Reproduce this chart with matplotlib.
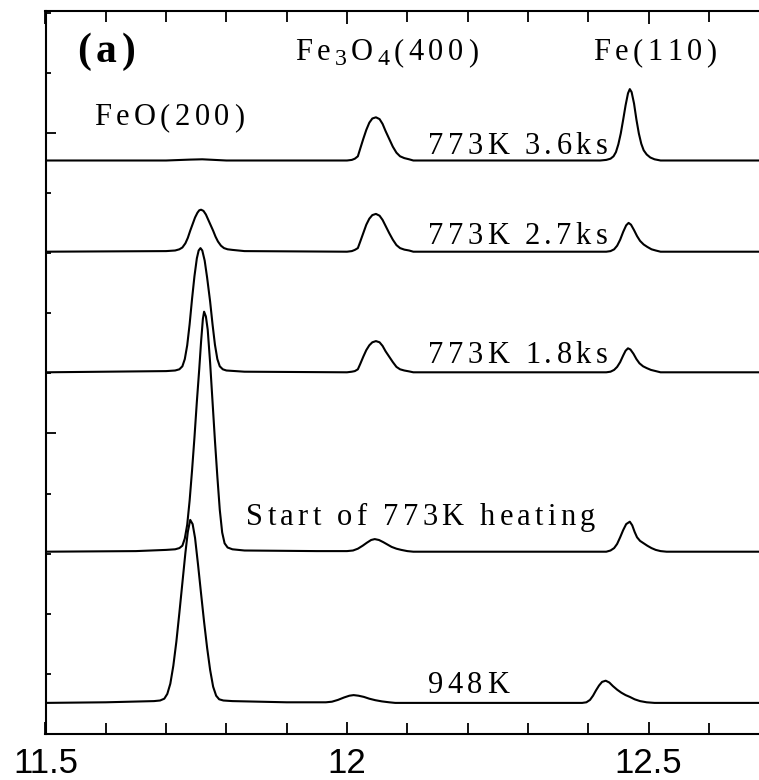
import matplotlib
matplotlib.use('Agg')
import matplotlib.pyplot as plt
from matplotlib.ticker import MultipleLocator, FixedLocator
from matplotlib.font_manager import FontProperties, findfont, get_font

# ---------------- data ----------------
# x positions and intensity above each curve's baseline (tick spacing = 1 unit)
x_948K = [11.50, 11.60, 11.68, 11.690, 11.697, 11.702, 11.707, 11.712, 11.717, 11.722,
          11.727, 11.732, 11.736, 11.740, 11.744, 11.748, 11.753, 11.758, 11.763, 11.768,
          11.773, 11.778, 11.783, 11.788, 11.795, 11.81, 11.90, 11.965, 11.975, 11.985,
          11.995, 12.004, 12.011, 12.019, 12.028, 12.037, 12.047, 12.058, 12.07, 12.08,
          12.39, 12.397, 12.403, 12.408, 12.413, 12.418, 12.423, 12.429, 12.435, 12.441,
          12.448, 12.455, 12.462, 12.469, 12.477, 12.486, 12.497, 12.51, 12.70]
y_948K = [0.00, 0.01, 0.03, 0.04, 0.07, 0.15, 0.32, 0.62, 1.02, 1.50,
          2.00, 2.50, 2.85, 3.05, 2.98, 2.75, 2.30, 1.82, 1.35, 0.92,
          0.55, 0.27, 0.12, 0.06, 0.04, 0.03, 0.01, 0.01, 0.02, 0.05,
          0.09, 0.12, 0.13, 0.12, 0.10, 0.07, 0.045, 0.025, 0.01, 0.00,
          0.00, 0.01, 0.05, 0.12, 0.21, 0.29, 0.35, 0.37, 0.34, 0.28,
          0.22, 0.17, 0.13, 0.10, 0.06, 0.03, 0.01, 0.00, 0.00]

x_start = [11.50, 11.65, 11.70, 11.715, 11.722, 11.727, 11.731, 11.735, 11.739, 11.743,
           11.747, 11.751, 11.755, 11.758, 11.761, 11.763, 11.766, 11.769, 11.773, 11.777,
           11.781, 11.785, 11.789, 11.793, 11.797, 11.802, 11.81, 11.83, 11.95, 12.00,
           12.01, 12.018, 12.026, 12.033, 12.040, 12.046, 12.053, 12.060, 12.067, 12.074,
           12.082, 12.090, 12.10, 12.11, 12.43, 12.437, 12.443, 12.448, 12.453, 12.458,
           12.463, 12.469, 12.473, 12.477, 12.481, 12.486, 12.492, 12.498, 12.505, 12.512,
           12.52, 12.53, 12.70]
y_start = [0.00, 0.01, 0.03, 0.04, 0.06, 0.10, 0.22, 0.45, 0.85, 1.35,
           1.90, 2.50, 3.05, 3.50, 3.88, 4.00, 3.92, 3.70, 3.15, 2.50,
           1.85, 1.25, 0.70, 0.32, 0.14, 0.07, 0.04, 0.02, 0.01, 0.01,
           0.02, 0.05, 0.10, 0.15, 0.195, 0.21, 0.195, 0.16, 0.12, 0.08,
           0.05, 0.03, 0.01, 0.00, 0.00, 0.02, 0.06, 0.13, 0.24, 0.36,
           0.46, 0.50, 0.44, 0.33, 0.24, 0.18, 0.14, 0.10, 0.06, 0.03,
           0.01, 0.00, 0.00]

x_18ks = [11.50, 11.70, 11.715, 11.722, 11.727, 11.731, 11.735, 11.739, 11.743, 11.747,
          11.751, 11.754, 11.757, 11.760, 11.764, 11.768, 11.773, 11.777, 11.781, 11.785,
          11.789, 11.794, 11.80, 11.83, 12.00, 12.008, 12.013, 12.018, 12.022, 12.027,
          12.032, 12.037, 12.042, 12.048, 12.054, 12.059, 12.064, 12.070, 12.076, 12.082,
          12.088, 12.095, 12.103, 12.11, 12.43, 12.437, 12.443, 12.448, 12.453, 12.458,
          12.462, 12.466, 12.470, 12.475, 12.480, 12.485, 12.491, 12.497, 12.504, 12.512,
          12.52, 12.70]
y_18ks = [0.00, 0.02, 0.03, 0.05, 0.10, 0.22, 0.45, 0.80, 1.22, 1.60,
          1.90, 2.03, 2.07, 2.03, 1.86, 1.58, 1.18, 0.80, 0.46, 0.22,
          0.10, 0.05, 0.03, 0.01, 0.00, 0.01, 0.02, 0.05, 0.14, 0.26,
          0.37, 0.45, 0.50, 0.52, 0.50, 0.44, 0.35, 0.26, 0.17, 0.09,
          0.05, 0.03, 0.015, 0.00, 0.00, 0.01, 0.04, 0.09, 0.17, 0.28,
          0.36, 0.40, 0.38, 0.31, 0.22, 0.15, 0.10, 0.07, 0.04, 0.02,
          0.00, 0.00]

x_27ks = [11.50, 11.70, 11.715, 11.722, 11.727, 11.732, 11.736, 11.740, 11.744, 11.748,
          11.752, 11.755, 11.758, 11.762, 11.766, 11.770, 11.774, 11.778, 11.782, 11.786,
          11.791, 11.796, 11.802, 11.81, 11.83, 12.00, 12.008, 12.013, 12.018, 12.022,
          12.027, 12.032, 12.037, 12.042, 12.048, 12.054, 12.059, 12.064, 12.070, 12.076,
          12.082, 12.088, 12.095, 12.103, 12.11, 12.43, 12.437, 12.443, 12.448, 12.453,
          12.458, 12.463, 12.467, 12.471, 12.476, 12.481, 12.486, 12.492, 12.498, 12.505,
          12.512, 12.52, 12.70]
y_27ks = [0.00, 0.01, 0.02, 0.04, 0.07, 0.14, 0.23, 0.35, 0.46, 0.57,
          0.65, 0.69, 0.70, 0.68, 0.62, 0.53, 0.44, 0.35, 0.25, 0.17,
          0.10, 0.06, 0.04, 0.03, 0.01, 0.00, 0.01, 0.03, 0.06, 0.17,
          0.31, 0.45, 0.55, 0.61, 0.63, 0.60, 0.53, 0.43, 0.31, 0.20,
          0.11, 0.06, 0.035, 0.02, 0.00, 0.00, 0.01, 0.04, 0.10, 0.20,
          0.33, 0.44, 0.48, 0.45, 0.36, 0.26, 0.18, 0.12, 0.08, 0.04,
          0.02, 0.00, 0.00]

x_36ks = [11.50, 11.70, 11.74, 11.76, 11.78, 11.80, 12.00, 12.008, 12.013, 12.018,
          12.022, 12.027, 12.032, 12.037, 12.042, 12.048, 12.054, 12.059, 12.064, 12.070,
          12.076, 12.082, 12.088, 12.095, 12.103, 12.11, 12.42, 12.430, 12.437, 12.442,
          12.446, 12.450, 12.454, 12.458, 12.462, 12.466, 12.469, 12.472, 12.476, 12.480,
          12.484, 12.488, 12.492, 12.497, 12.503, 12.51, 12.52, 12.70]
y_36ks = [0.00, 0.00, 0.015, 0.02, 0.01, 0.00, 0.00, 0.01, 0.03, 0.07,
          0.20, 0.36, 0.51, 0.63, 0.70, 0.72, 0.69, 0.61, 0.49, 0.36,
          0.23, 0.13, 0.07, 0.04, 0.02, 0.00, 0.00, 0.01, 0.03, 0.07,
          0.14, 0.27, 0.45, 0.68, 0.92, 1.12, 1.19, 1.14, 0.95, 0.68,
          0.45, 0.28, 0.17, 0.10, 0.05, 0.02, 0.00, 0.00]

curve_labels = ['948K', 'Start of 773K heating', '773K 1.8ks', '773K 2.7ks', '773K 3.6ks']
offsets = [0.51, 3.03, 6.02, 8.03, 9.55]
x_ticks = [11.5, 12, 12.5]
x_tick_labels = ['11.5', '12', '12.5']

# ---------------- figure ----------------
DPI = 100
fig = plt.figure(figsize=(7.59, 7.80), dpi=DPI)
ax = fig.add_axes([45.5 / 759, 46.5 / 780, 723.6 / 759, 722.5 / 780])

curves = [(x_948K, y_948K), (x_start, y_start), (x_18ks, y_18ks),
          (x_27ks, y_27ks), (x_36ks, y_36ks)]
for (xs, ys), off in zip(curves, offsets):
    ax.plot(xs, [v + off for v in ys], color='black', lw=1.5,
            solid_joinstyle='round', solid_capstyle='round')

ax.set_xlim(11.5, 12.7)
ax.set_ylim(0, 722.5 / 60)

ax.xaxis.set_major_locator(FixedLocator(x_ticks))
ax.set_xticklabels(x_tick_labels, fontfamily='Liberation Sans', fontsize=25)
ax.xaxis.set_minor_locator(MultipleLocator(0.1))
ax.yaxis.set_major_locator(MultipleLocator(5))
ax.yaxis.set_minor_locator(MultipleLocator(1))
ax.set_yticklabels([])

ax.tick_params(axis='x', which='both', direction='in', top=True, bottom=True,
               width=1.3, pad=10)
ax.tick_params(axis='x', which='major', length=9)
ax.tick_params(axis='x', which='minor', length=7.7)
ax.tick_params(axis='y', which='both', direction='in', left=True, right=False,
               width=1.3, labelleft=False)
ax.tick_params(axis='y', which='major', length=7.2)
ax.tick_params(axis='y', which='minor', length=3.6)
for sp in ax.spines.values():
    sp.set_linewidth(1.5)


def px2x(px):
    return 11.5 + (px - 45.5) / 603.0


def px2y(py):
    return (733.5 - py) / 60.0


def tracked(xp, yp, parts, size, track_px, weight='normal'):
    x, y = px2x(xp), px2y(yp)
    off = 0.0
    for s, scale, dy in parts:
        fp = FontProperties(family='Liberation Serif', size=size * scale, weight=weight)
        f = get_font(findfont(fp))
        for ch in s:
            ax.annotate(ch, xy=(x, y), xycoords='data',
                        xytext=(off * 72 / DPI, -dy * 72 / DPI), textcoords='offset points',
                        ha='left', va='baseline', fontproperties=fp)
            f.set_size(size * scale, DPI)
            adv = f.load_char(ord(ch)).linearHoriAdvance / 65536
            off += adv + track_px


tracked(77, 62, [('(a)', 1, 0)], 30, 5, weight='bold')
tracked(295, 60, [('Fe', 1, 0), ('3', 0.78, 5), ('O', 1, 0), ('4', 0.78, 5), ('(400)', 1, 0)], 22, 4.5)
tracked(593, 60, [('Fe(110)', 1, 0)], 22, 4.5)
tracked(94, 125, [('FeO(200)', 1, 0)], 22, 4.5)

label_px = [(428, 693), (246, 525), (428, 363), (428, 244), (428, 154)]
for lab, (lx, ly) in zip(curve_labels, label_px):
    tracked(lx, ly, [(lab, 1, 0)], 22, 4.3)

fig.savefig('out.png', dpi=DPI)
